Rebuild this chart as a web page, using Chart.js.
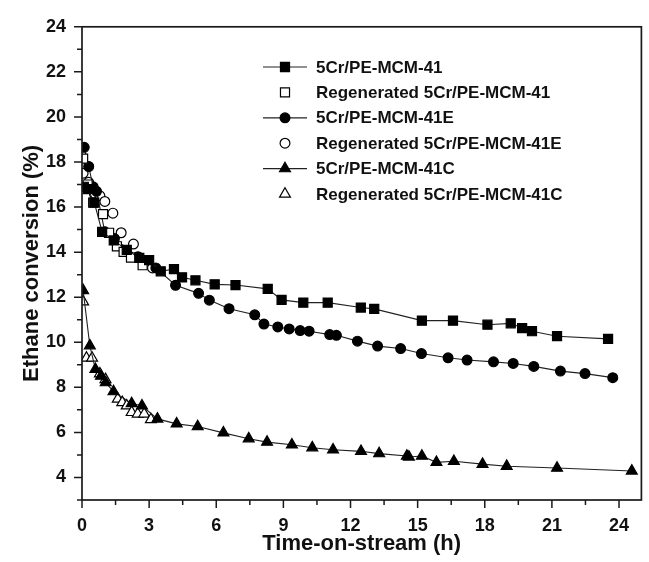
<!DOCTYPE html>
<html><head><meta charset="utf-8">
<script src="https://cdn.jsdelivr.net/npm/chart.js@4/dist/chart.umd.min.js"></script>
<style>html,body{margin:0;padding:0;background:#fff}#wrap{width:649px;height:562px;position:relative}</style>
</head><body><div id="wrap"><canvas id="c"></canvas></div>
<script>
// ---- data (time-on-stream in h, ethane conversion in %) ----
const seriesNames = ['5Cr/PE-MCM-41','Regenerated 5Cr/PE-MCM-41','5Cr/PE-MCM-41E','Regenerated 5Cr/PE-MCM-41E','5Cr/PE-MCM-41C','Regenerated 5Cr/PE-MCM-41C'];

const tA  = [0.08,0.25,0.55,0.9,1.42,2.0,2.56,3.0,3.52,4.11,4.47,5.07,5.93,6.86,8.30,8.92,9.89,10.98,12.46,13.06,15.19,16.58,18.12,19.16,19.67,20.11,21.23,23.51];
const vA  = [16.9,16.8,16.2,14.9,14.52,14.1,13.74,13.65,13.15,13.25,12.88,12.75,12.57,12.54,12.37,11.88,11.76,11.76,11.54,11.48,10.96,10.96,10.78,10.84,10.63,10.49,10.27,10.15];

const tRA = [0.05,0.25,0.5,0.94,1.21,1.56,1.86,2.19,2.71];
const vRA = [18.15,17.0,16.2,15.69,14.86,14.26,14.01,13.76,13.42];

const tE  = [0.1,0.3,0.5,0.65,1.02,1.45,2.5,3.3,4.18,5.21,5.69,6.57,7.72,8.13,8.75,9.26,9.75,10.15,11.07,11.37,12.31,13.21,14.24,15.17,16.36,17.21,18.39,19.27,20.19,21.38,22.48,23.72];
const vE  = [18.65,17.8,16.9,16.7,14.9,14.6,13.8,13.3,12.53,12.17,11.87,11.49,11.22,10.81,10.68,10.59,10.52,10.49,10.34,10.31,10.05,9.83,9.72,9.5,9.31,9.21,9.13,9.06,8.93,8.72,8.61,8.43];

const tRE = [0.05,0.3,0.55,0.8,1.02,1.38,1.75,2.3,3.15];
const vRE = [17.5,17.1,16.6,16.5,16.25,15.73,14.86,14.36,13.3];

const tC  = [0.05,0.35,0.6,0.85,1.06,1.41,2.22,2.68,3.37,4.23,5.17,6.32,7.45,8.27,9.38,10.29,11.22,12.47,13.28,14.52,14.61,15.19,15.84,16.62,17.90,18.98,21.23,24.57];
const vC  = [12.3,9.85,8.8,8.5,8.21,7.81,7.28,7.18,6.6,6.38,6.26,5.98,5.72,5.57,5.45,5.32,5.23,5.16,5.06,4.95,4.91,4.95,4.67,4.72,4.59,4.50,4.42,4.29];

const tRC = [0.05,0.2,0.45,0.8,1.05,1.6,1.8,2.0,2.22,2.49,2.78,3.08];
const vRC = [11.8,9.3,9.3,8.6,8.35,7.48,7.33,7.18,6.89,6.82,6.82,6.57];

const xTickLabels = [0,3,6,9,12,15,18,21,24];
const yTickLabels = [4,6,8,10,12,14,16,18,20,22,24];
const xMinorTicks = [1.5,4.5,7.5,10.5,13.5,16.5,19.5,22.5];
const yMinorTicks = [3,5,7,9,11,13,15,17,19,21,23];

// ---- chart ----
const FONT = "'Liberation Sans', Arial, Helvetica, sans-serif";
const INK = '#111';
function pts(t, v){ return t.map((x,i)=>({x:x, y:v[i]})); }

function mk(i, t, v, style, filled, line, r){
  return {
    label: seriesNames[i], data: pts(t, v), showLine: line,
    borderColor: '#222', borderWidth: 1.1,
    pointStyle: style, pointRadius: r, pointHoverRadius: r,
    pointBackgroundColor: filled ? '#000' : '#fff',
    pointBorderColor: '#000', pointBorderWidth: 1.2,
    _filled: filled, _line: line
  };
}
const datasets = [
  mk(0, tA, vA, 'rect', true, true, 6.4),
  mk(1, tRA, vRA, 'rect', false, false, 6.4),
  mk(2, tE, vE, 'circle', true, true, 4.9),
  mk(3, tRE, vRE, 'circle', false, false, 4.9),
  mk(4, tC, vC, 'triangle', true, true, 6.3),
  mk(5, tRC, vRC, 'triangle', false, false, 6.3)
];

function drawMark(ctx, ds, x, y){
  ctx.save();
  ctx.fillStyle = ds.pointBackgroundColor;
  ctx.strokeStyle = ds.pointBorderColor;
  ctx.lineWidth = ds.pointBorderWidth;
  Chart.helpers.drawPoint(ctx, {pointStyle: ds.pointStyle, radius: ds.pointRadius, rotation: 0, borderWidth: ds.pointBorderWidth}, x, y);
  ctx.restore();
}

const framePlugin = {
  id: 'frame',
  afterDraw(chart){
    const {ctx, chartArea: a, scales} = chart;
    ctx.save();
    ctx.strokeStyle = '#1a1a1a';
    ctx.lineWidth = 1.7;
    ctx.strokeRect(a.left, a.top, a.right - a.left, a.bottom - a.top);
    ctx.lineWidth = 1.5;
    ctx.beginPath();
    const xs = scales.x, ys = scales.y;
    xTickLabels.forEach(v => { const p = xs.getPixelForValue(v); ctx.moveTo(p, a.bottom); ctx.lineTo(p, a.bottom + 8); });
    xMinorTicks.forEach(v => { const p = xs.getPixelForValue(v); ctx.moveTo(p, a.bottom); ctx.lineTo(p, a.bottom + 5); });
    yTickLabels.forEach(v => { const p = ys.getPixelForValue(v); ctx.moveTo(a.left, p); ctx.lineTo(a.left - 8, p); });
    yMinorTicks.forEach(v => { const p = ys.getPixelForValue(v); ctx.moveTo(a.left, p); ctx.lineTo(a.left - 5, p); });
    ctx.stroke();
    ctx.restore();
  }
};

const legendPlugin = {
  id: 'customLegend',
  afterDraw(chart){
    const ctx = chart.ctx;
    const x0 = 263, x1 = 307, xm = 285, xt = 316, y0 = 67, dy = 25.4;
    ctx.save();
    ctx.font = "bold 17px " + FONT;
    ctx.textBaseline = 'middle';
    ctx.fillStyle = INK;
    chart.data.datasets.forEach((ds, i) => {
      const y = y0 + i * dy;
      if (ds._line){
        ctx.strokeStyle = '#222'; ctx.lineWidth = 1.2;
        ctx.beginPath(); ctx.moveTo(x0, y); ctx.lineTo(x1, y); ctx.stroke();
      }
      drawMark(ctx, ds, xm, y);
      ctx.fillStyle = INK;
      ctx.fillText(ds.label, xt, y + 1);
    });
    ctx.restore();
  }
};

new Chart(document.getElementById('c'), {
  type: 'scatter',
  data: { datasets },
  options: {
    responsive: true, maintainAspectRatio: false, animation: false,
    layout: { padding: { top: 23, right: 1, left: 0, bottom: 0 } },
    plugins: { legend: { display: false }, tooltip: { enabled: false } },
    scales: {
      x: {
        type: 'linear', min: 0, max: 25, position: 'bottom',
        grid: { display: false, drawTicks: false }, border: { display: false },
        afterBuildTicks: s => { s.ticks = xTickLabels.map(v => ({value: v})); },
        afterFit: s => { s.height = 62; },
        ticks: { padding: 15, color: INK, font: { family: FONT, size: 18, weight: 'bold' }, maxRotation: 0 },
        title: { display: true, text: 'Time-on-stream (h)', color: INK, font: { family: FONT, size: 22, weight: 'bold' }, padding: { top: 5, bottom: 5 } }
      },
      y: {
        type: 'linear', min: 3, max: 24,
        grid: { display: false, drawTicks: false }, border: { display: false },
        afterBuildTicks: s => { s.ticks = yTickLabels.map(v => ({value: v})); },
        afterFit: s => { s.width = 82; },
        ticks: { padding: 16, color: INK, font: { family: FONT, size: 18, weight: 'bold' } },
        title: { display: true, text: 'Ethane conversion (%)', color: INK, font: { family: FONT, size: 22, weight: 'bold' }, padding: { top: 19, bottom: 4 } }
      }
    }
  },
  plugins: [framePlugin, legendPlugin]
});
</script></body></html>
